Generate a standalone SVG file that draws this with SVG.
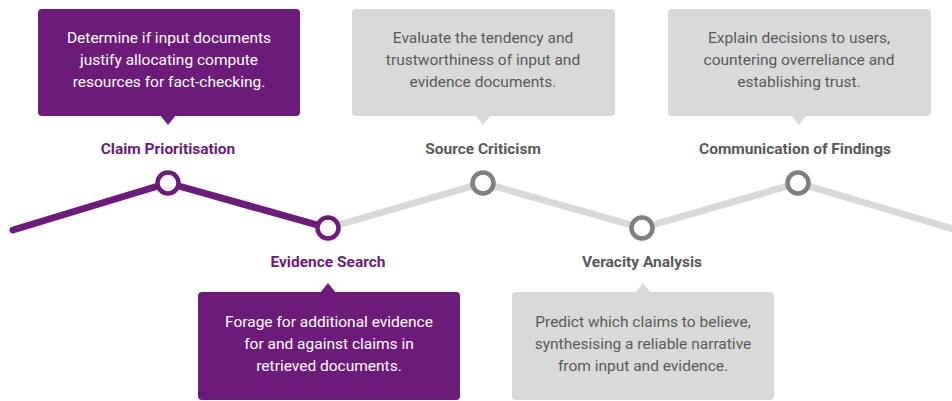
<svg xmlns="http://www.w3.org/2000/svg" width="952" height="401" viewBox="0 0 952 401">
<style>
.pbox{fill:#6d1b7b}
.gbox{fill:#d9d9d9}
.ptxt{fill:#ffffff;font-family:Roboto,"Liberation Sans",sans-serif;font-size:15.5px;text-anchor:middle}
.gtxt{fill:#595959;font-family:Roboto,"Liberation Sans",sans-serif;font-size:15.5px;text-anchor:middle}
.ptitle{fill:#6d1b7b;font-family:Roboto,"Liberation Sans",sans-serif;font-size:15.5px;font-weight:bold;text-anchor:middle}
.gtitle{fill:#595959;font-family:Roboto,"Liberation Sans",sans-serif;font-size:15.5px;font-weight:bold;text-anchor:middle}
.pline{fill:none;stroke:#6d1b7b;stroke-width:7;stroke-linecap:round;stroke-linejoin:round}
.gline{fill:none;stroke:#d9d9d9;stroke-width:7;stroke-linejoin:round}
.pc{fill:#ffffff;stroke:#6d1b7b;stroke-width:4.5}
.gc{fill:#ffffff;stroke:#7f7f7f;stroke-width:4.5}
</style>
<g id="connectors">
<polyline class="gline" points="328,228 483,183 642,228 798,183 960,231"/>
<polyline class="pline" points="13,230 168,183 328,228"/>
</g>
<g id="claim-prioritisation">
<rect class="pbox" x="38" y="9" width="262" height="107" rx="4"/>
<polygon class="pbox" points="160,115 176,115 168,125"/>
<text class="ptxt" x="169" y="43">Determine if input documents</text>
<text class="ptxt" x="169" y="65">justify allocating compute</text>
<text class="ptxt" x="169" y="87">resources for fact-checking.</text>
<text class="ptitle" x="168" y="154">Claim Prioritisation</text>
<circle class="pc" cx="168" cy="183" r="10.5"/>
</g>
<g id="evidence-search">
<rect class="pbox" x="198" y="292" width="262" height="108" rx="4"/>
<polygon class="pbox" points="320,293 336,293 328,283"/>
<text class="ptxt" x="329" y="327">Forage for additional evidence</text>
<text class="ptxt" x="329" y="349">for and against claims in</text>
<text class="ptxt" x="329" y="371">retrieved documents.</text>
<text class="ptitle" x="328" y="267">Evidence Search</text>
<circle class="pc" cx="328" cy="228" r="10.5"/>
</g>
<g id="source-criticism">
<rect class="gbox" x="352" y="9" width="263" height="107" rx="4"/>
<polygon class="gbox" points="475,115 491,115 483,125"/>
<text class="gtxt" x="483" y="43">Evaluate the tendency and</text>
<text class="gtxt" x="483" y="65">trustworthiness of input and</text>
<text class="gtxt" x="483" y="87">evidence documents.</text>
<text class="gtitle" x="483" y="154">Source Criticism</text>
<circle class="gc" cx="483" cy="183" r="10.5"/>
</g>
<g id="veracity-analysis">
<rect class="gbox" x="512" y="292" width="262" height="108" rx="4"/>
<polygon class="gbox" points="635,293 651,293 643,283"/>
<text class="gtxt" x="643" y="327">Predict which claims to believe,</text>
<text class="gtxt" x="643" y="349">synthesising a reliable narrative</text>
<text class="gtxt" x="643" y="371">from input and evidence.</text>
<text class="gtitle" x="642" y="267">Veracity Analysis</text>
<circle class="gc" cx="642" cy="228" r="10.5"/>
</g>
<g id="communication-of-findings">
<rect class="gbox" x="668" y="9" width="263" height="107" rx="4"/>
<polygon class="gbox" points="791,115 807,115 799,125"/>
<text class="gtxt" x="799" y="43">Explain decisions to users,</text>
<text class="gtxt" x="799" y="65">countering overreliance and</text>
<text class="gtxt" x="799" y="87">establishing trust.</text>
<text class="gtitle" x="795" y="154">Communication of Findings</text>
<circle class="gc" cx="798" cy="183" r="10.5"/>
</g>
</svg>
